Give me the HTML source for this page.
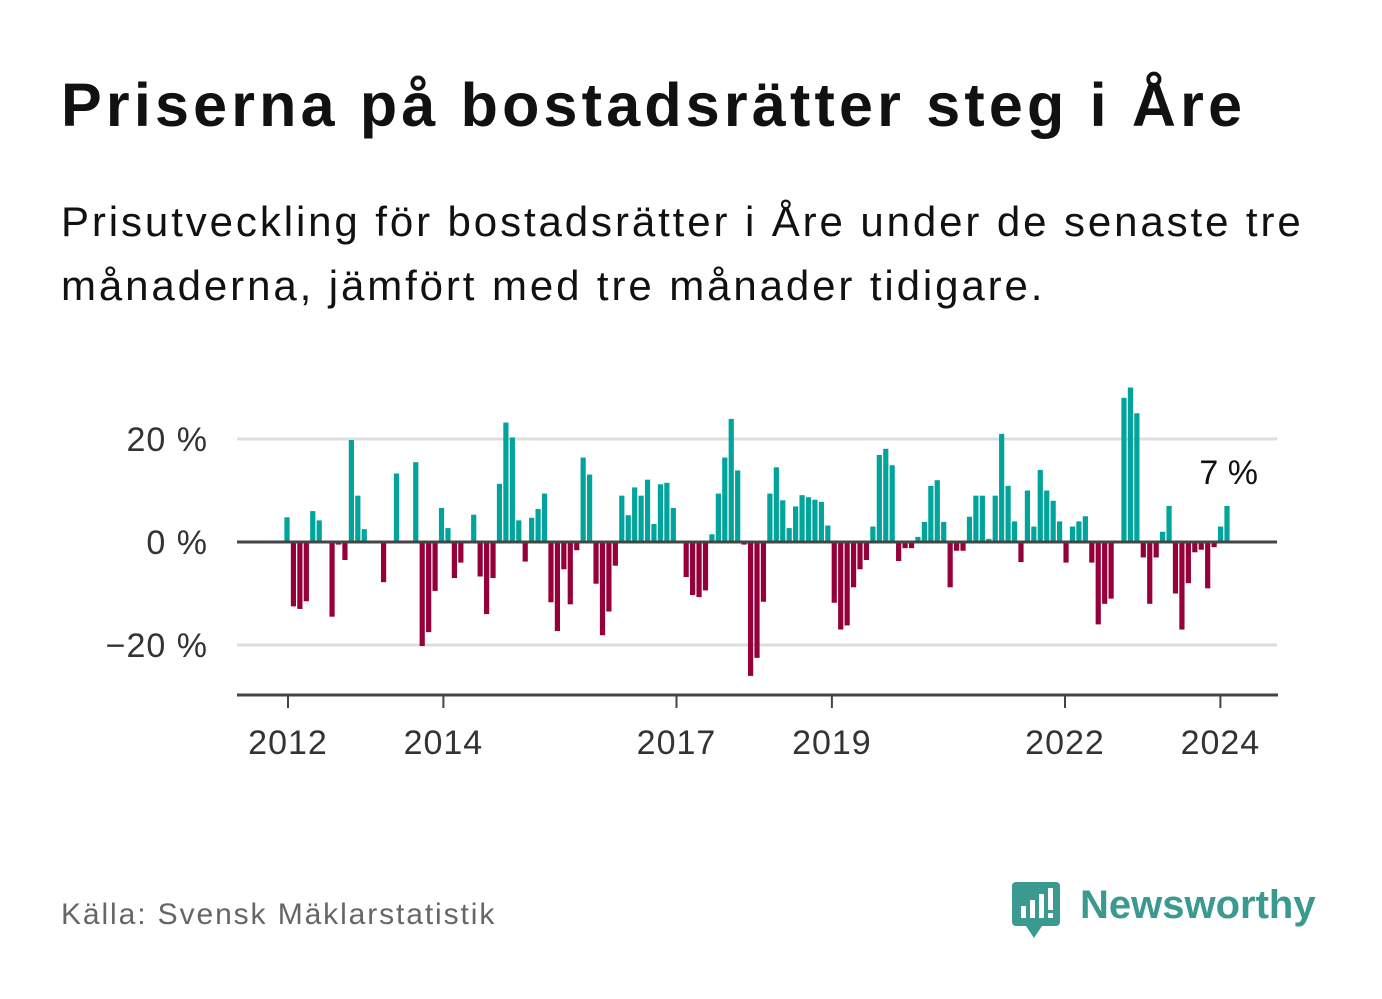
<!DOCTYPE html>
<html><head><meta charset="utf-8"><style>
body{margin:0;width:1382px;height:999px;background:#fff;font-family:"Liberation Sans",sans-serif;overflow:hidden;position:relative}
#title{position:absolute;left:61px;top:70px;font-size:61px;font-weight:bold;color:#111;margin:0;letter-spacing:4.2px;white-space:nowrap}
#sub{position:absolute;left:61px;top:190px;font-size:42px;line-height:64px;color:#111;width:1320px;letter-spacing:2.9px;white-space:nowrap}
#src{position:absolute;left:61px;top:898px;font-size:30px;color:#666;letter-spacing:1.9px}
#logo{position:absolute;left:1012px;top:880px}
svg text{font-family:"Liberation Sans",sans-serif}
</style></head><body>
<h1 id="title">Priserna på bostadsrätter steg i Åre</h1>
<div id="sub">Prisutveckling för bostadsrätter i Åre under de senaste tre<br>månaderna, jämfört med tre månader tidigare.</div>
<svg id="chart" width="1382" height="999" style="position:absolute;left:0;top:0"></svg>
<div id="src">Källa: Svensk Mäklarstatistik</div>
<div id="logo">
<svg width="320" height="60"><g><rect x="0" y="2" width="48" height="44" rx="4" fill="#3a9a8f"/><polygon points="14,46 30,46 22,58" fill="#3a9a8f"/><rect x="9" y="26" width="5" height="12" fill="#fff"/><rect x="18" y="20" width="5" height="18" fill="#fff"/><rect x="27" y="14" width="5" height="24" fill="#fff"/><rect x="36" y="8" width="5" height="22" fill="#fff"/><rect x="36" y="33" width="5" height="5" fill="#fff"/></g>
<text x="68" y="38" font-size="40" font-weight="bold" fill="#3a9a8f">Newsworthy</text></svg></div>
<script>
const values=[4.8,-12.5,-13,-11.5,6,4.2,0,-14.5,-0.5,-3.5,19.8,9,2.5,0,0,-7.8,0,13.3,0,0,15.5,-20.2,-17.5,-9.5,6.6,2.7,-7,-4,0,5.3,-6.7,-14,-7,11.3,23.2,20.3,4.2,-3.8,4.7,6.4,9.4,-11.7,-17.3,-5.3,-12.1,-1.6,16.4,13.1,-8.1,-18.1,-13.5,-4.6,9,5.2,10.6,9,12.1,3.5,11.2,11.5,6.6,0,-6.8,-10.3,-10.7,-9.4,1.5,9.4,16.4,23.9,13.9,-0.5,-26,-22.5,-11.6,9.4,14.5,8.1,2.7,6.9,9.1,8.7,8.2,7.8,3.2,-11.8,-17,-16.2,-8.8,-5.3,-3.5,3,16.9,18.1,14.9,-3.7,-1.2,-1.2,1,3.9,10.9,12,3.9,-8.8,-1.7,-1.7,4.9,9,9,0.6,9,21,10.9,4,-3.9,10,3,14,10,8,4,-4,3,4,5,-4,-16,-12,-11,0,28,30,25,-3,-12,-3,2,7,-10,-17,-8,-2,-1.5,-9,-1,3,7];
const yTicks=[20,0,-20];
const yTickLabels=["20 %","0 %","\u221220 %"];
const xTickYears=[2012,2014,2017,2019,2022,2024];
const startYear=2012;
const ns="http://www.w3.org/2000/svg";
const svg=document.getElementById('chart');
const y0=542,pxPer=5.15;
function y(v){return y0-v*pxPer;}
function xi(i){return 287+i*(1227-287)/(values.length-1);}
function xYear(yr){return 288+(yr-startYear)*77.7;}
function mk(t,a){const e=document.createElementNS(ns,t);for(const k in a)e.setAttribute(k,a[k]);svg.appendChild(e);return e;}
yTicks.forEach((t,i)=>{
 if(t!==0){const g=mk('line',{x1:237,x2:1277,y1:y(t),y2:y(t),stroke:'#ddd','stroke-width':3});
 
 }
 const l=mk('text',{x:208,y:y(t)+12,'text-anchor':'end','font-size':34,fill:'#333','letter-spacing':1});l.textContent=yTickLabels[i];
 
 
});
values.forEach((v,i)=>{
 const r=mk('rect',{x:xi(i)-2.6,width:5.2,y:Math.min(y(v),y0),height:Math.abs(y(v)-y0),fill:v>=0?'#00a49a':'#95003a'});
 
 
});
const z=mk('line',{x1:237,x2:1277,y1:y0,y2:y0,stroke:'#444','stroke-width':3});


const ax=mk('line',{x1:237,x2:1278,y1:695,y2:695,stroke:'#444','stroke-width':3});


xTickYears.forEach(yr=>{
 const t=mk('line',{x1:xYear(yr),x2:xYear(yr),y1:695,y2:708,stroke:'#444','stroke-width':2});
 
 
 const l=mk('text',{x:xYear(yr),y:754,'text-anchor':'middle','font-size':34,fill:'#333','letter-spacing':1});l.textContent=yr;
 
 
});
const last=values[values.length-1];
const lab=mk('text',{x:1258,y:484,'text-anchor':'end','font-size':34,fill:'#111'});lab.textContent=last+' %';


</script>
</body></html>
